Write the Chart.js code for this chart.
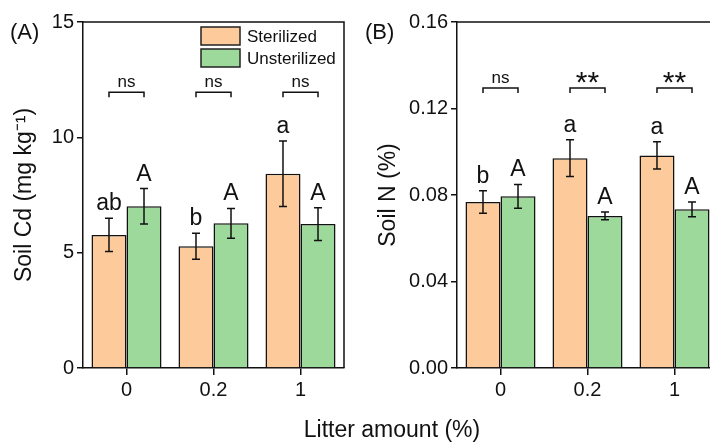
<!DOCTYPE html>
<html>
<head>
<meta charset="utf-8">
<script src="https://cdn.jsdelivr.net/npm/chart.js@4"></script>
<style>
  html, body { margin: 0; padding: 0; overflow: hidden; background: #fff; }
  #wrap { position: relative; width: 710px; height: 443px; overflow: hidden; }
  #cA { position: absolute; left: 0; top: 0; }
  #cB { position: absolute; left: 355px; top: 0; }
  #xtitle { position: absolute; left: 292px; top: 416px; width: 200px; text-align: center;
    font: 23px 'Liberation Sans', Arial, sans-serif; color: #111; }
</style>
</head>
<body>
<div id="wrap">
  <canvas id="cA" width="355" height="443"></canvas>
  <canvas id="cB" width="365" height="443"></canvas>
  <div id="xtitle">Litter amount (%)</div>
</div>
<script>
const FONT = "'Liberation Sans', Arial, sans-serif"
const ORANGE = '#FDCB9B'
const GREEN = '#9ED99C'

const categories = ['0', '0.2', '1']

// panel A - soil Cd (mg/kg)
const cdSter = [5.77, 5.28, 8.42]
const cdSterSE = [0.72, 0.56, 1.42]
const cdUnster = [7.01, 6.27, 6.24]
const cdUnsterSE = [0.77, 0.65, 0.71]
const cdSterLetters = ['ab', 'b', 'a']
const cdUnsterLetters = ['A', 'A', 'A']
const cdSig = ['ns', 'ns', 'ns']
const cdTicks = [0, 5, 10, 15]

// panel B - soil N (%)
const nSter = [0.0768, 0.0970, 0.0983]
const nSterSE = [0.0052, 0.0085, 0.0063]
const nUnster = [0.0794, 0.0703, 0.0734]
const nUnsterSE = [0.0055, 0.0018, 0.0034]
const nSterLetters = ['b', 'a', 'a']
const nUnsterLetters = ['A', 'A', 'A']
const nSig = ['ns', '**', '**']
const nTicks = [0, 0.04, 0.08, 0.12, 0.16]

const legendLabels = ['Sterilized', 'Unsterilized']

const extras = {
  id: 'extras',
  afterDatasetsDraw(chart, args, opts) {
    const ctx = chart.ctx
    const y = chart.scales.y
    const a = chart.chartArea
    ctx.save()
    ctx.strokeStyle = '#111'
    ctx.fillStyle = '#111'
    ctx.lineWidth = 1.5

    // top and right frame
    ctx.beginPath()
    ctx.moveTo(a.left, a.top)
    ctx.lineTo(a.right, a.top)
    ctx.lineTo(a.right, a.bottom)
    ctx.stroke()

    // error bars + letters
    chart.data.datasets.forEach((ds, di) => {
      const meta = chart.getDatasetMeta(di)
      meta.data.forEach((bar, i) => {
        const v = ds.data[i], e = ds.errors[i]
        const yt = y.getPixelForValue(v + e)
        const yb = y.getPixelForValue(v - e)
        ctx.beginPath()
        ctx.moveTo(bar.x, yt); ctx.lineTo(bar.x, yb)
        ctx.moveTo(bar.x - 4, yt); ctx.lineTo(bar.x + 4, yt)
        ctx.moveTo(bar.x - 4, yb); ctx.lineTo(bar.x + 4, yb)
        ctx.stroke()
        ctx.font = '23px ' + FONT
        ctx.textAlign = 'center'
        ctx.textBaseline = 'alphabetic'
        ctx.fillText(ds.letters[i], bar.x, yt - 8)
      })
    })

    // significance brackets
    const m0 = chart.getDatasetMeta(0), m1 = chart.getDatasetMeta(1)
    const by = y.getPixelForValue(opts.sigAt)
    opts.sig.forEach((s, i) => {
      const x1 = m0.data[i].x, x2 = m1.data[i].x
      ctx.beginPath()
      ctx.moveTo(x1, by + 5); ctx.lineTo(x1, by); ctx.lineTo(x2, by); ctx.lineTo(x2, by + 5)
      ctx.stroke()
      ctx.textAlign = 'center'
      if (s === 'ns') {
        ctx.font = '17px ' + FONT
        ctx.fillText(s, (x1 + x2) / 2, by - 5)
      } else {
        ctx.font = '30px ' + FONT
        ctx.fillText(s, (x1 + x2) / 2, by + 4)
      }
    })

    // panel label
    ctx.font = '22px ' + FONT
    ctx.textAlign = 'left'
    ctx.textBaseline = 'middle'
    ctx.fillText(opts.panel, 10, 33)

    // legend
    if (opts.legend) {
      const cols = [ORANGE, GREEN]
      legendLabels.forEach((lab, k) => {
        const top = 27 + k * 22
        ctx.fillStyle = cols[k]
        ctx.fillRect(201, top, 39, 18)
        ctx.strokeStyle = '#222'
        ctx.strokeRect(201, top, 39, 18)
        ctx.fillStyle = '#111'
        ctx.font = '17px ' + FONT
        ctx.textBaseline = 'middle'
        ctx.fillText(lab, 247, top + 10)
      })
    }
    ctx.restore()
  }
}

function makeChart(id, p) {
  return new Chart(document.getElementById(id), {
    type: 'bar',
    data: {
      labels: categories,
      datasets: [
        { label: legendLabels[0], data: p.ster, errors: p.sterSE, letters: p.sterLetters,
          backgroundColor: ORANGE, borderColor: '#111', borderWidth: 1.5 },
        { label: legendLabels[1], data: p.unster, errors: p.unsterSE, letters: p.unsterLetters,
          backgroundColor: GREEN, borderColor: '#111', borderWidth: 1.5 },
      ],
    },
    plugins: [extras],
    options: {
      responsive: false,
      animation: false,
      layout: { padding: { left: 0, top: 22, right: p.padRight, bottom: 0 } },
      datasets: { bar: { barPercentage: 1, categoryPercentage: 0.805 } },
      plugins: {
        legend: { display: false },
        tooltip: { enabled: false },
        extras: { sig: p.sig, sigAt: p.sigAt, panel: p.panel, legend: p.legend },
      },
      scales: {
        x: {
          grid: { offset: false, drawOnChartArea: false, color: '#111', lineWidth: 1.5, tickLength: 7 },
          border: { color: '#111', width: 1.5 },
          ticks: { color: '#111', font: { family: FONT, size: 20 }, padding: 3 },
          afterFit: (s) => { s.height = 75 },
        },
        y: {
          min: 0,
          max: p.ticks[p.ticks.length - 1],
          afterBuildTicks: (s) => { s.ticks = p.ticks.map(v => ({ value: v })) },
          grid: { drawOnChartArea: false, color: '#111', lineWidth: 1.5, tickLength: 6 },
          border: { color: '#111', width: 1.5 },
          ticks: { color: '#111', font: { family: FONT, size: 20 }, padding: 3,
            callback: (v) => v.toFixed(p.decimals) },
          title: { display: true, text: p.title, color: '#111',
            font: { family: FONT, size: 23 }, padding: { top: p.titlePad, bottom: 0 } },
          afterFit: (s) => { s.width = p.yWidth },
        },
      },
    },
  })
}

makeChart('cA', {
  ster: cdSter, sterSE: cdSterSE, unster: cdUnster, unsterSE: cdUnsterSE,
  sterLetters: cdSterLetters, unsterLetters: cdUnsterLetters, sig: cdSig, sigAt: 11.95,
  ticks: cdTicks, decimals: 0, title: 'Soil Cd (mg kg⁻¹)', titlePad: 11,
  yWidth: 83, padRight: 11, panel: '(A)', legend: true,
})

makeChart('cB', {
  ster: nSter, sterSE: nSterSE, unster: nUnster, unsterSE: nUnsterSE,
  sterLetters: nSterLetters, unsterLetters: nUnsterLetters, sig: nSig, sigAt: 0.1295,
  ticks: nTicks, decimals: 2, title: 'Soil N (%)', titlePad: 20,
  yWidth: 102, padRight: 2, panel: '(B)', legend: false,
})
</script>
</body>
</html>
